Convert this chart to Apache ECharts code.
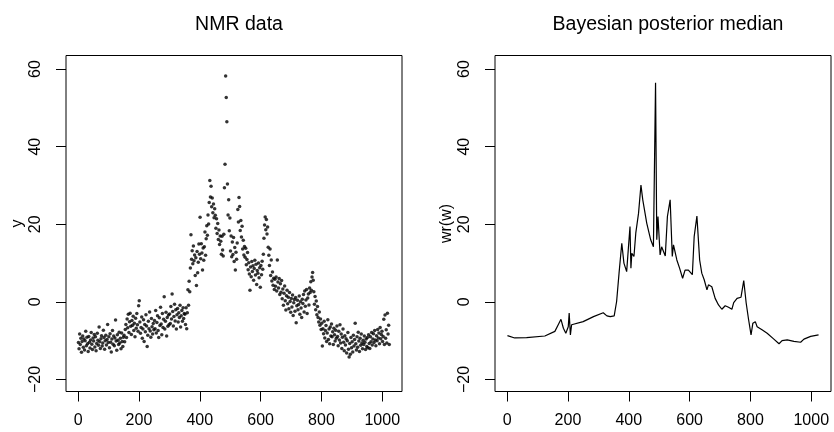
<!DOCTYPE html>
<html>
<head>
<meta charset="utf-8">
<script src="https://cdn.jsdelivr.net/npm/echarts@6/dist/echarts.min.js"></script>
<style>html,body{margin:0;padding:0;background:#fff}#c{width:834px;height:432px}</style>
</head>
<body>
<div id="c"></div>
<script>
const nmrY = [
-10.5,-12.1,-8.3,-11.0,-9.4,-13.0,-10.2,-8.8,-11.7,-9.6,-12.4,-10.0,-7.6,-11.3,-9.1,-10.8,-12.8,-8.9,-10.4,-11.9,-9.8,-7.9,-10.9,-12.3,-9.3,
-10.1,-8.4,-11.6,-9.0,-12.6,-10.7,-8.1,-9.9,-11.2,-6.5,-10.3,-12.0,-9.5,-8.7,-11.4,-10.6,-7.3,-9.2,-12.2,-10.0,-8.6,-11.1,-9.7,-5.8,-10.5,
-9.0,-11.8,-8.2,-10.4,-12.9,-9.6,-7.4,-10.9,-8.8,-11.3,-9.3,-4.7,-10.1,-12.5,-8.5,-9.9,-11.0,-7.8,-10.6,-9.4,-12.1,-8.0,-10.2,-11.5,-9.1,
-8.6,-10.3,-7.1,-5.8,-9.2,-4.4,-6.7,-3.2,-7.9,-5.1,-2.9,-6.3,-8.4,-4.8,-6.0,-3.7,-7.4,-5.5,-9.0,-4.2,-6.8,-3.0,-5.9,-7.6,-1.0,
0.3,-5.2,-8.1,-6.6,-3.9,-9.4,-7.0,-4.6,-10.2,-5.8,-7.7,-3.3,-6.2,-11.5,-8.6,-5.0,-6.9,-2.6,-7.5,-9.1,-4.3,-6.4,-8.3,-5.6,-7.2,
-4.8,-6.9,-2.2,-8.0,-5.3,-3.6,-7.4,-9.2,-4.1,-6.1,-1.4,-5.7,-8.5,-3.0,-6.6,-4.5,1.3,-7.0,-5.0,-2.7,-8.8,-4.0,-6.3,-3.4,-5.9,
-3.1,-5.6,-1.2,-4.4,2.0,-2.5,-6.2,-3.8,-0.6,-4.9,-2.0,-7.0,-3.3,-1.7,-5.2,-2.8,-4.0,-0.9,-6.5,-3.6,-2.2,-5.0,-1.5,-4.3,-3.0,
-3.2,-5.8,-1.5,-6.9,-2.8,3.1,-0.9,5.3,2.6,8.7,17.3,11.0,13.2,9.8,14.4,10.6,12.1,6.8,11.4,4.2,13.0,7.5,10.2,14.9,12.3,
21.8,11.1,15.0,12.6,8.2,13.9,10.7,14.2,18.0,12.0,16.3,19.6,17.2,22.4,20.1,25.6,31.3,27.0,29.8,24.5,26.8,23.0,25.2,21.7,24.0,
22.3,19.0,21.4,17.6,20.2,16.1,18.5,14.8,17.0,15.6,12.3,16.9,13.4,11.8,17.4,29.4,35.5,58.2,52.7,46.4,30.4,22.4,26.3,18.3,21.6,
13.1,17.0,11.6,15.4,12.2,16.6,10.4,14.0,8.2,12.8,11.0,15.2,23.8,20.6,26.9,24.6,18.4,21.0,16.7,19.5,13.6,15.9,12.1,14.3,11.5,
13.8,9.6,10.9,12.7,8.3,10.1,7.2,3.0,9.0,6.5,10.4,7.8,9.3,5.6,8.6,10.7,6.9,9.7,4.5,8.1,7.4,10.0,6.2,8.8,3.8,
9.4,7.0,10.5,8.4,12.3,16.4,19.8,21.9,18.6,21.2,17.5,19.3,14.1,12.0,9.4,13.6,6.8,10.8,5.4,7.7,4.3,6.1,3.2,5.8,4.0,
6.4,2.8,10.8,5.1,3.6,6.0,1.9,4.7,2.5,5.5,0.8,3.3,-0.9,2.2,4.1,0.3,-2.1,1.6,3.0,-0.5,1.2,-1.8,2.4,0.1,-2.7,
0.9,-1.3,1.8,-3.5,-0.2,0.6,-2.4,1.1,-5.4,-1.0,0.4,-2.0,-0.7,1.5,-3.2,0.0,-1.6,-4.0,0.7,-0.4,1.9,-2.6,2.8,-1.1,0.5,
3.2,-3.0,1.0,2.0,-0.8,3.6,2.4,5.2,3.0,6.4,7.6,5.6,2.6,-0.6,1.4,-2.0,0.2,-3.3,-1.2,-4.0,-5.2,-2.6,-6.0,-4.4,-7.1,
-5.5,-11.4,-6.9,-8.2,-5.0,-9.3,-7.4,-6.1,-10.2,-8.0,-4.6,-9.7,-7.0,-10.8,-6.5,-8.8,-5.7,-9.0,-7.7,-11.0,-6.8,-8.5,-10.1,-7.3,-9.4,
-6.2,-8.9,-11.3,-7.6,-9.8,-5.9,-10.6,-8.3,-12.0,-9.1,-7.0,-10.4,-12.6,-8.7,-11.1,-9.5,-13.2,-10.0,-7.9,-12.2,-14.2,-10.7,-13.5,-9.2,-11.8,
-10.3,-12.9,-8.6,-11.4,-9.7,-5.5,-10.8,-12.4,-9.0,-11.7,-7.8,-10.1,-12.8,-9.4,-11.2,-8.3,-10.6,-12.1,-9.9,-11.0,-8.8,-10.4,-12.3,-9.6,-11.5,
-9.2,-11.8,-8.5,-10.7,-12.0,-9.0,-10.3,-7.9,-11.1,-9.6,-8.2,-10.5,-7.4,-9.8,-11.3,-8.7,-10.0,-7.1,-9.3,-8.0,-10.8,-6.6,-9.5,-8.4,-7.6,
-10.2,-8.9,-4.5,-11.0,-3.4,-9.4,-7.2,-10.6,-2.9,-8.3,-6.0,-11.0
];
// Bayesian posterior median, vertices of the line
const wrX = [1,25,64,124,157,168,177,185,193,201,204,208,212,250,284,316,328,339,352,360,368,377,384,393,399,404,407,410,417,423,432,440,446,459,472,481,488,492,496,503,508,514,520,527,536,543,547,552,558,567,577,585,596,609,615,624,633,640,648,657,662,673,684,695,706,717,728,739,745,756,769,778,786,794,802,808,816,822,838,855,877,894,904,921,943,965,976,998,1024];
const wrY = [-8.7,-9.3,-9.2,-8.8,-7.6,-5.9,-4.5,-6.8,-8.1,-6.4,-2.9,-8.5,-5.9,-5.1,-3.8,-2.8,-3.6,-3.8,-3.6,0.1,7.4,15.1,10.0,7.8,14.2,19.4,8.7,12.5,11.7,17.7,22.8,30.1,26.3,20.3,16.0,14.2,56.5,16.0,22.0,12.1,14.2,13.9,11.8,22.0,26.3,11.7,14.7,14.2,10.8,8.7,6.1,8.2,8.2,7.0,16.8,22.1,10.8,7.4,5.7,3.1,4.4,3.9,0.9,-0.8,-1.9,-1.0,-1.4,-1.9,-0.2,0.9,1.2,5.5,-0.3,-4.6,-8.5,-5.5,-5.1,-6.4,-7.2,-8.1,-9.6,-10.8,-10.0,-9.8,-10.2,-10.4,-9.6,-8.9,-8.5];
const xTicks = [0,200,400,600,800,1000];
const yTicks = [-20,0,20,40,60];
const titles = ['NMR data','Bayesian posterior median'];
const yNames = ['y','wr(w)'];

const FONT = 'Liberation Sans, Arial, Helvetica, sans-serif';
const scatterData = nmrY.map((v,k)=>[1+2*k, v]);
const lineData = wrX.map((x,k)=>[x, wrY[k]]);

const chart = echarts.init(document.getElementById('c'), null, {renderer:'canvas'});
const grids = [
  {left:66, top:55.5, width:336, height:336},
  {left:495, top:55.5, width:336, height:336}
];
function xAx(gi){
  return {type:'value', gridIndex:gi, min:-39.9, max:1064.9, position:'bottom',
    axisLine:{show:false, onZero:false}, splitLine:{show:false},
    axisTick:{show:true, inside:false, length:10, customValues:xTicks, lineStyle:{color:'#000', width:1}},
    axisLabel:{show:true, customValues:xTicks, margin:21, fontSize:16, color:'#000', fontFamily:FONT,
      formatter:(v)=>String(v)}};
}
function yAx(gi){
  return {type:'value', gridIndex:gi, min:-23.1, max:63.5, position:'left',
    name:yNames[gi], nameLocation:'middle', nameRotate:90, nameGap:40,
    nameTextStyle:{fontSize:16, color:'#000', fontFamily:FONT},
    axisLine:{show:false, onZero:false}, splitLine:{show:false},
    axisTick:{show:true, inside:false, length:10, customValues:yTicks, lineStyle:{color:'#000', width:1}},
    axisLabel:{show:true, customValues:yTicks, rotate:90, margin:22, fontSize:16, color:'#000', fontFamily:FONT,
      formatter:(v)=>String(v).replace('-', '\u2212')}};
}
chart.setOption({
  animation:false,
  backgroundColor:'#fff',
  title:[
    {text:titles[0], left:234, top:10, textAlign:'center', textStyle:{fontSize:19.5, fontWeight:'normal', color:'#000', fontFamily:FONT}},
    {text:titles[1], left:663, top:10, textAlign:'center', textStyle:{fontSize:19.5, fontWeight:'normal', color:'#000', fontFamily:FONT}}
  ],
  grid: grids.map(g=>Object.assign({show:true, borderColor:'#000', borderWidth:1, backgroundColor:'transparent'}, g)),
  xAxis:[xAx(0), xAx(1)],
  yAxis:[yAx(0), yAx(1)],
  series:[
    {type:'scatter', xAxisIndex:0, yAxisIndex:0, data:scatterData, symbol:'circle', symbolSize:3.5,
      itemStyle:{color:'#000'}, silent:true},
    {type:'line', xAxisIndex:1, yAxisIndex:1, data:lineData, showSymbol:false, symbol:'none',
      lineStyle:{color:'#000', width:1.2}, silent:true}
  ]
});
</script>
</body>
</html>
